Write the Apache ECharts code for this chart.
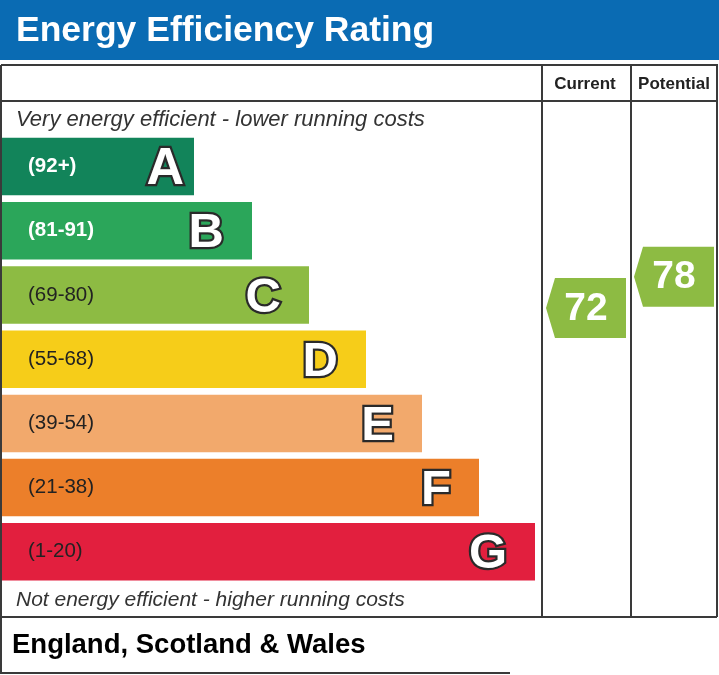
<!DOCTYPE html>
<html><head><meta charset="utf-8">
<script src="https://cdn.jsdelivr.net/npm/echarts@6/dist/echarts.min.js"></script>
<style>html,body{margin:0;padding:0;background:#fff}#c{width:719px;height:675px}</style>
</head><body><div id="c"></div>
<script>
// ---- data ----
const bands = ['A','B','C','D','E','F','G'];
const ranges = ['(92+)','(81-91)','(69-80)','(55-68)','(39-54)','(21-38)','(1-20)'];
const bandLow = [92,81,69,55,39,21,1];
const bandHigh = [100,91,80,68,54,38,20];
const barLength = [192,250,307,364,420,477,533];
const bandColors = ['#12845a','#2ba65a','#8dbb43','#f6cd19','#f2a96c','#ec7f2a','#e21f3e'];
const rangeLabelColors = ['#ffffff','#ffffff','#222222','#222222','#222222','#222222','#222222'];
const columns = ['Current','Potential'];
const ratings = [72, 78];

const FONT = 'Liberation Sans, Arial, Helvetica, sans-serif';
const chart = echarts.init(document.getElementById('c'), null, {renderer:'canvas'});

function bandOf(v){ for(let i=0;i<bands.length;i++){ if(v>=bandLow[i]&&v<=bandHigh[i]) return i; } return bands.length-1; }

const GRID_TOP = 134.5, GRID_H = 449.4, BAR_W = 57.5;

const arrowData = ratings.map((r,ci)=>{ const b = bandOf(r); return [ci, b, r, bandLow[b], bandHigh[b]]; });

const line = (x1,y1,x2,y2)=>({type:'line', shape:{x1,y1,x2,y2}, style:{stroke:'#3a3a3a', lineWidth:2}, silent:true});

const option = {
  animation:false,
  grid:[
    {left:2, top:GRID_TOP, width:538, height:GRID_H},
    {left:542, top:GRID_TOP, width:176, height:GRID_H}
  ],
  xAxis:[
    {gridIndex:0, type:'value', min:0, max:538, show:false},
    {gridIndex:1, type:'category', data:columns, show:false}
  ],
  yAxis:[
    {gridIndex:0, type:'category', data:bands, inverse:true, show:false},
    {gridIndex:1, type:'category', data:bands, inverse:true, show:false}
  ],
  series:[
    {
      type:'bar', xAxisIndex:0, yAxisIndex:0, barWidth:BAR_W, silent:true,
      data: barLength.map((v,i)=>({value:v, itemStyle:{color:bandColors[i]},
        label:{color:rangeLabelColors[i], fontWeight: i<2?'bold':'normal'}})),
      label:{show:true, position:'insideLeft', distance:26, fontFamily:FONT, fontSize:20.5,
        formatter:p=>ranges[p.dataIndex]}
    },
    {
      type:'bar', xAxisIndex:0, yAxisIndex:0, barWidth:BAR_W, barGap:'-100%', silent:true,
      itemStyle:{color:'rgba(0,0,0,0)'},
      data: barLength.map((v,i)=>({value:v, label: i===0?{distance:10, fontSize:52}:{}})),
      label:{show:true, position:'insideRight', distance:28, offset:[0,3], fontFamily:FONT, fontSize:49, fontWeight:'bold',
        color:'#ffffff', textBorderColor:'#2a2a2a', textBorderWidth:4.5,
        formatter:p=>bands[p.dataIndex]}
    },
    {
      type:'custom', xAxisIndex:1, yAxisIndex:1, silent:true,
      data: arrowData,
      renderItem:(params, api)=>{
        const c = api.coord([api.value(0), api.value(1)]);
        const bandH = api.size([0,1])[1];
        const barH = bandH*BAR_W/(GRID_H/bands.length);
        const r = api.value(2), lo = api.value(3), hi = api.value(4);
        const y = c[1] + barH/2 - (r-lo)/(hi-lo)*barH;
        const w = 80, h = 60, tip = 9;
        const x0 = c[0]-w/2, x1 = c[0]+w/2;
        const col = bandColors[api.value(1)];
        return {type:'group', children:[
          {type:'polygon', shape:{points:[[x0,y],[x0+tip,y-h/2],[x1,y-h/2],[x1,y+h/2],[x0+tip,y+h/2]]}, style:{fill:col}},
          {type:'text', style:{text:String(r), x:c[0], y:y+1, align:'center', verticalAlign:'middle',
            fontFamily:FONT, fontSize:39, fontWeight:'bold', fill:'#ffffff'}}
        ]};
      }
    }
  ],
  graphic:[
    {type:'rect', shape:{x:0,y:0,width:719,height:60}, style:{fill:'#0a6bb3'}, silent:true},
    {type:'text', style:{text:'Energy Efficiency Rating', x:16, y:31, verticalAlign:'middle', fontFamily:FONT, fontSize:35.5, fontWeight:'bold', fill:'#ffffff'}},
    line(1,65,718,65), line(1,65,1,674), line(717,65,717,617),
    line(1,101,717,101), line(542,65,542,617), line(631,65,631,617),
    line(1,617,717,617), line(1,673,510,673),
    {type:'text', style:{text:'Current', x:585, y:84, align:'center', verticalAlign:'middle', fontFamily:FONT, fontSize:17, fontWeight:'bold', fill:'#222'}},
    {type:'text', style:{text:'Potential', x:674, y:84, align:'center', verticalAlign:'middle', fontFamily:FONT, fontSize:17, fontWeight:'bold', fill:'#222'}},
    {type:'text', style:{text:'Very energy efficient - lower running costs', x:16, y:120, verticalAlign:'middle', fontFamily:FONT, fontSize:22, fontStyle:'italic', fill:'#333'}},
    {type:'text', style:{text:'Not energy efficient - higher running costs', x:16, y:600, verticalAlign:'middle', fontFamily:FONT, fontSize:21, fontStyle:'italic', fill:'#333'}},
    {type:'text', style:{text:'England, Scotland & Wales', x:12, y:645, verticalAlign:'middle', fontFamily:FONT, fontSize:27.5, fontWeight:'bold', fill:'#000'}}
  ]
};
chart.setOption(option);
</script></body></html>
